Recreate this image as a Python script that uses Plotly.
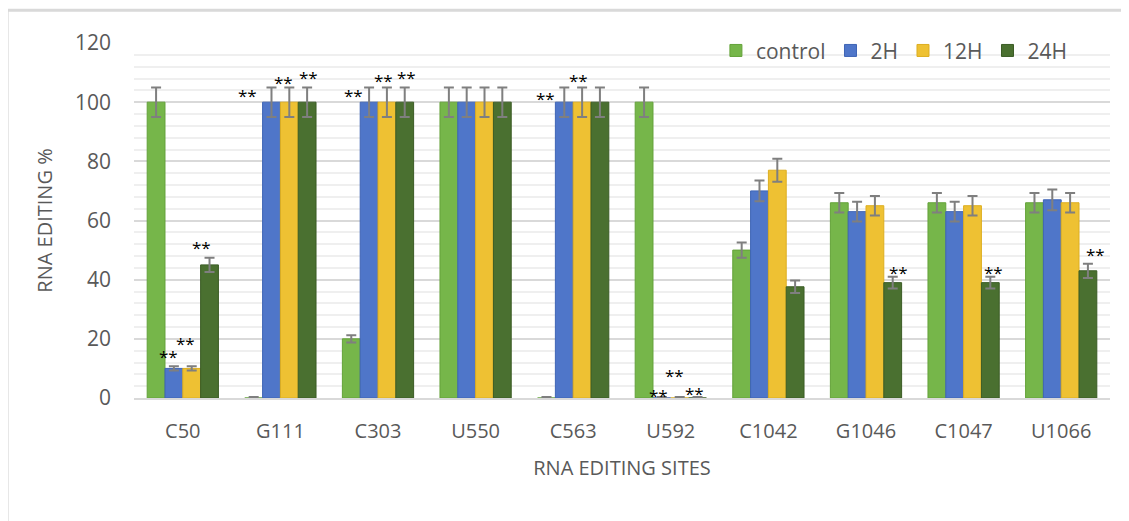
import plotly.graph_objects as go

sites = ["C50", "G111", "C303", "U550", "C563", "U592", "C1042", "G1046", "C1047", "U1066"]

control = [100, 0, 20, 100, 0, 100, 50, 66, 66, 66]
h2 = [10, 100, 100, 100, 100, 0, 70, 63, 63, 67]
h12 = [10, 100, 100, 100, 100, 0, 77, 65, 65, 66]
h24 = [45, 100, 100, 100, 100, 0, 37.6, 39, 39, 43]

control_err = [5, 0.3, 1.2, 5, 0.3, 5, 2.6, 3.3, 3.3, 3.3]
h2_err = [0.7, 5, 5, 5, 5, 0.3, 3.5, 3.3, 3.3, 3.5]
h12_err = [0.7, 5, 5, 5, 5, 0.3, 3.9, 3.3, 3.3, 3.3]
h24_err = [2.4, 5, 5, 5, 5, 0.3, 2.1, 2.0, 2.0, 2.4]

series_names = ["control", "2H", "12H", "24H"]

# significance marks: (site, y value, horizontal pixel shift from category centre)
sig_sites = ["C50", "C50", "C50", "G111", "G111", "G111", "C303", "C303", "C303",
             "C563", "C563", "U592", "U592", "U592", "G1046", "C1047", "U1066"]
sig_y = [14.9, 19.6, 52, 103.4, 107.5, 109.5, 103.4, 108.5, 109.5,
         102.4, 108.5, 2, 8.5, 2.7, 43.6, 43.6, 49.4]
sig_shift = [-14, 3, 19, -33, 3, 28, -25, 5, 28, -28, 5, -12, 4, 24, 32, 30, 34]

fills = ["#76B64A", "#4F76C9", "#EEC133", "#4A7030"]
edges = ["#64A23A", "#3F65B5", "#DDAE20", "#3B5C25"]

fig = go.Figure()
for name, vals, errs, fc, ec in zip(series_names, [control, h2, h12, h24],
                                    [control_err, h2_err, h12_err, h24_err], fills, edges):
    fig.add_trace(go.Bar(
        name=name, x=sites, y=vals,
        marker=dict(color=fc, line=dict(color=ec, width=1)),
        error_y=dict(type="data", array=errs, visible=True, color="#7F7F7F",
                     thickness=2, width=5),
    ))

for s, yv, sh in zip(sig_sites, sig_y, sig_shift):
    fig.add_annotation(x=s, y=yv, xref="x", yref="y", text="**", showarrow=False,
                       xshift=sh, yshift=-3, font=dict(size=17, color="#000000",
                                                      family="Open Sans"))

font_family = "Open Sans"
fig.update_layout(
    width=1129, height=521,
    margin=dict(l=126, r=27, t=35, b=131),
    paper_bgcolor="white", plot_bgcolor="white",
    barmode="group", bargap=0.27, bargroupgap=0,
    font=dict(family=font_family, color="#595959", size=20),
    legend=dict(orientation="h", x=0.962, xanchor="right", y=0.978, yanchor="middle",
                bgcolor="rgba(0,0,0,0)", font=dict(size=21, color="#595959"),
                itemwidth=30, traceorder="normal"),
    showlegend=True,
)
fig.update_xaxes(
    showline=True, linecolor="#D9D9D9", linewidth=2, showgrid=False,
    ticks="", tickfont=dict(size=20, color="#595959"), ticklabelstandoff=14,
    title=dict(text="RNA EDITING SITES", font=dict(size=20, color="#595959"), standoff=18),
)
fig.update_yaxes(
    range=[0, 120], dtick=20, showgrid=True, gridcolor="#D9D9D9", gridwidth=2,
    zeroline=False, showline=False, ticks="", ticklabelstandoff=22,
    tickfont=dict(size=21, color="#595959"),
    minor=dict(dtick=4, showgrid=True, gridcolor="#EFEFEF", gridwidth=2),
    title=dict(text="RNA EDITING %", font=dict(size=20, color="#595959"), standoff=16),
)
# outer chart frame (top and left edges)
fig.add_shape(type="line", xref="paper", yref="paper", x0=-0.13, x1=1.04,
              y0=1.092, y1=1.092, line=dict(color="#D9D9D9", width=3))
fig.add_shape(type="line", xref="paper", yref="paper", x0=-0.13, x1=-0.13,
              y0=1.092, y1=-0.37, line=dict(color="#D9D9D9", width=3))

fig.write_html("out.html")
